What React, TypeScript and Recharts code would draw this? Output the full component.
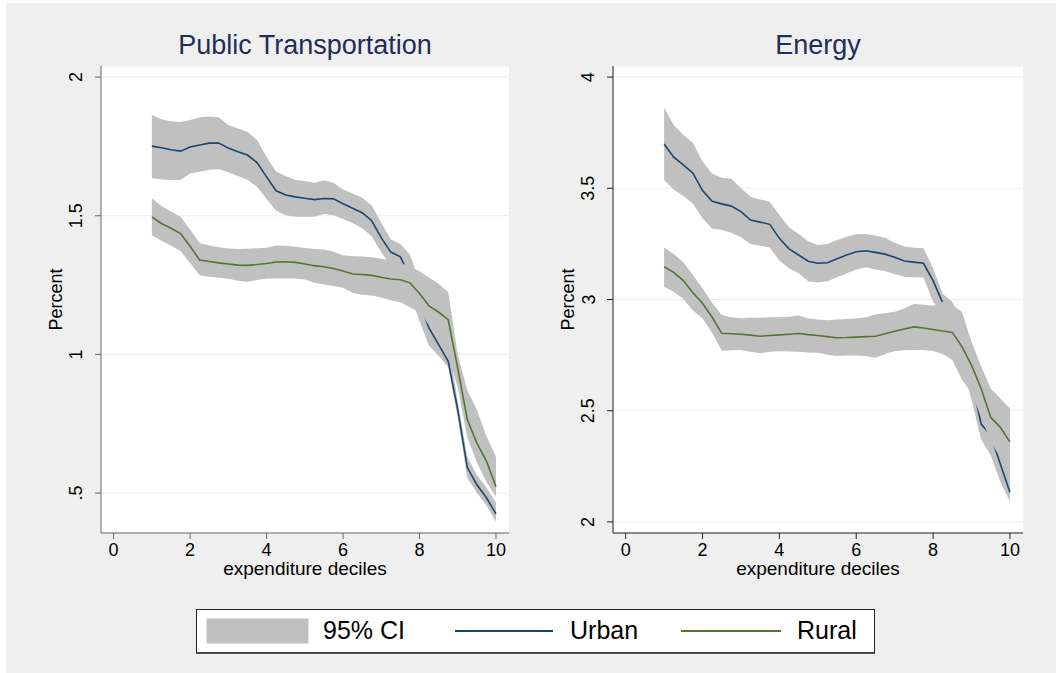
import React from 'react'
import { ComposedChart, Area, XAxis, YAxis, CartesianGrid, Label } from 'recharts'

// expenditure deciles (x grid shared by every series)
const deciles = [
  1, 1.25, 1.5, 1.75, 2, 2.25, 2.5, 2.75, 3, 3.25, 3.5, 3.75, 4, 4.25, 4.5, 4.75, 5, 5.25, 5.5,
  5.75, 6, 6.25, 6.5, 6.75, 7, 7.25, 7.5, 7.75, 8, 8.25, 8.5, 8.75, 9, 9.25, 9.5, 9.75, 10,
]
const xTicks = [0, 2, 4, 6, 8, 10]

// Public Transportation
const ptUrban = [1.751, 1.745, 1.738, 1.733, 1.748, 1.755, 1.762, 1.762, 1.744, 1.731, 1.719, 1.692, 1.640, 1.590, 1.575, 1.568, 1.563, 1.558, 1.562, 1.561, 1.543, 1.527, 1.511, 1.482, 1.420, 1.369, 1.352, 1.280, 1.180, 1.095, 1.035, 0.975, 0.800, 0.592, 0.530, 0.483, 0.425]
const ptUrbanHi = [1.863, 1.848, 1.841, 1.838, 1.845, 1.855, 1.858, 1.855, 1.827, 1.815, 1.803, 1.773, 1.712, 1.660, 1.642, 1.630, 1.625, 1.619, 1.628, 1.619, 1.595, 1.580, 1.565, 1.537, 1.475, 1.414, 1.398, 1.360, 1.260, 1.160, 1.110, 1.050, 0.830, 0.630, 0.565, 0.520, 0.465]
const ptUrbanLo = [1.635, 1.632, 1.629, 1.629, 1.652, 1.659, 1.666, 1.668, 1.657, 1.643, 1.630, 1.605, 1.560, 1.518, 1.502, 1.496, 1.496, 1.496, 1.506, 1.502, 1.488, 1.474, 1.455, 1.425, 1.368, 1.320, 1.300, 1.220, 1.120, 1.030, 0.995, 0.955, 0.770, 0.555, 0.500, 0.455, 0.397]
const ptRural = [1.496, 1.472, 1.455, 1.436, 1.390, 1.340, 1.335, 1.330, 1.326, 1.322, 1.321, 1.324, 1.328, 1.333, 1.334, 1.332, 1.326, 1.320, 1.316, 1.310, 1.301, 1.290, 1.288, 1.285, 1.278, 1.272, 1.269, 1.258, 1.220, 1.175, 1.152, 1.125, 0.950, 0.765, 0.680, 0.615, 0.523]
const ptRuralHi = [1.563, 1.535, 1.515, 1.496, 1.450, 1.402, 1.393, 1.386, 1.382, 1.380, 1.381, 1.383, 1.385, 1.393, 1.392, 1.388, 1.384, 1.380, 1.378, 1.370, 1.358, 1.354, 1.353, 1.350, 1.345, 1.338, 1.330, 1.318, 1.300, 1.277, 1.255, 1.225, 1.000, 0.870, 0.800, 0.705, 0.631]
const ptRuralLo = [1.430, 1.410, 1.393, 1.372, 1.330, 1.285, 1.280, 1.276, 1.273, 1.266, 1.262, 1.268, 1.274, 1.274, 1.274, 1.274, 1.270, 1.258, 1.252, 1.247, 1.240, 1.222, 1.215, 1.212, 1.205, 1.195, 1.188, 1.170, 1.150, 1.105, 1.050, 1.000, 0.880, 0.700, 0.610, 0.540, 0.487]
const ptTicks = [0.5, 1, 1.5, 2]

// Energy
const enUrban = [3.699, 3.640, 3.605, 3.568, 3.490, 3.442, 3.430, 3.420, 3.395, 3.357, 3.348, 3.338, 3.275, 3.228, 3.200, 3.172, 3.163, 3.165, 3.183, 3.200, 3.215, 3.219, 3.212, 3.204, 3.190, 3.173, 3.168, 3.163, 3.085, 2.985, 2.910, 2.800, 2.640, 2.440, 2.390, 2.260, 2.133]
const enUrbanHi = [3.862, 3.785, 3.740, 3.705, 3.620, 3.565, 3.548, 3.543, 3.500, 3.462, 3.450, 3.440, 3.380, 3.325, 3.295, 3.262, 3.245, 3.250, 3.268, 3.282, 3.293, 3.295, 3.288, 3.278, 3.255, 3.238, 3.233, 3.230, 3.140, 3.025, 2.990, 2.900, 2.740, 2.520, 2.460, 2.330, 2.218]
const enUrbanLo = [3.537, 3.495, 3.465, 3.432, 3.365, 3.318, 3.312, 3.300, 3.280, 3.250, 3.242, 3.234, 3.175, 3.140, 3.118, 3.082, 3.076, 3.082, 3.100, 3.117, 3.135, 3.145, 3.135, 3.128, 3.115, 3.102, 3.100, 3.099, 2.990, 2.940, 2.840, 2.710, 2.550, 2.370, 2.300, 2.180, 2.090]
const enRural = [3.147, 3.122, 3.085, 3.030, 2.983, 2.920, 2.848, 2.846, 2.844, 2.840, 2.835, 2.838, 2.841, 2.844, 2.847, 2.842, 2.838, 2.833, 2.828, 2.829, 2.831, 2.833, 2.835, 2.846, 2.857, 2.867, 2.877, 2.872, 2.865, 2.858, 2.852, 2.788, 2.705, 2.600, 2.470, 2.425, 2.360]
const enRuralHi = [3.234, 3.205, 3.168, 3.110, 3.050, 2.985, 2.930, 2.920, 2.916, 2.918, 2.918, 2.920, 2.920, 2.922, 2.928, 2.915, 2.910, 2.907, 2.910, 2.912, 2.915, 2.920, 2.932, 2.938, 2.945, 2.960, 2.980, 2.976, 2.972, 2.990, 2.975, 2.945, 2.810, 2.700, 2.600, 2.555, 2.510]
const enRuralLo = [3.057, 3.035, 3.002, 2.950, 2.915, 2.850, 2.770, 2.772, 2.773, 2.765, 2.758, 2.765, 2.767, 2.766, 2.765, 2.762, 2.760, 2.752, 2.746, 2.748, 2.748, 2.745, 2.738, 2.755, 2.768, 2.772, 2.773, 2.773, 2.768, 2.755, 2.728, 2.640, 2.580, 2.470, 2.360, 2.290, 2.218]
const enTicks = [2, 2.5, 3, 3.5, 4]

const URBAN = '#1a476f'
const RURAL = '#55752f'
const BAND = '#c0c0c0'
const FONT = '"Liberation Sans", Arial, sans-serif'

const buildRows = (u: number[], uLo: number[], uHi: number[], r: number[], rLo: number[], rHi: number[]) =>
  deciles.map((x, i) => ({
    x,
    urban: u[i],
    urbanCI: [uLo[i], uHi[i]],
    rural: r[i],
    ruralCI: [rLo[i], rHi[i]],
  }))

const ptData = buildRows(ptUrban, ptUrbanLo, ptUrbanHi, ptRural, ptRuralLo, ptRuralHi)
const enData = buildRows(enUrban, enUrbanLo, enUrbanHi, enRural, enRuralLo, enRuralHi)

const fmtY = (v: number) => (v < 1 ? String(v).replace(/^0/, '') : String(v))

const YTick = (props: any) => {
  const { x, y, payload } = props
  const bx = x - 10.5
  return (
    <text x={bx} y={y} transform={`rotate(-90 ${bx} ${y})`} textAnchor="middle" fontSize={18} fill="#000">
      {fmtY(payload.value)}
    </text>
  )
}

const XTick = (props: any) => {
  const { x, y, payload } = props
  return (
    <text x={x} y={y + 15} textAnchor="middle" fontSize={18} fill="#000">
      {payload.value}
    </text>
  )
}

interface PanelProps {
  title: string
  data: any[]
  yDomain: [number, number]
  yTicks: number[]
  left: number
  width: number
  yAxisWidth: number
  marginRight: number
  axisColor: string
}

function Panel({ title, data, yDomain, yTicks, left, width, yAxisWidth, marginRight, axisColor }: PanelProps) {
  const height = 600
  // lines are drawn as stroke-only Areas so the rural band can cover the urban line (Stata draw order)
  return (
    <div style={{ position: 'absolute', left, top: 0, width, height }}>
      <ComposedChart
        width={width}
        height={height}
        data={data}
        margin={{ top: 66, right: marginRight, left: 0, bottom: 0 }}
      >
        <CartesianGrid vertical={false} stroke="#e4eef0" fill="#ffffff" />
        <XAxis
          type="number"
          dataKey="x"
          domain={[-0.33, 10.34]}
          ticks={xTicks}
          allowDataOverflow
          height={67}
          stroke={axisColor}
          tick={<XTick />}
          tickSize={6}
        >
          <Label
            content={(p: any) => (
              <text
                x={p.viewBox.x + p.viewBox.width / 2}
                y={p.viewBox.y + 42}
                textAnchor="middle"
                fontSize={19}
                fill="#000"
              >
                expenditure deciles
              </text>
            )}
          />
        </XAxis>
        <YAxis
          type="number"
          domain={yDomain}
          ticks={yTicks}
          allowDataOverflow
          width={yAxisWidth}
          stroke={axisColor}
          tick={<YTick />}
          tickSize={6}
        >
          <Label
            content={(p: any) => {
              const bx = p.viewBox.x + p.viewBox.width - 39
              const cy = p.viewBox.y + p.viewBox.height / 2
              return (
                <text x={bx} y={cy} transform={`rotate(-90 ${bx} ${cy})`} textAnchor="middle" fontSize={18} fill="#000">
                  Percent
                </text>
              )
            }}
          />
        </YAxis>
        <Area type="linear" dataKey="urbanCI" stroke="none" fill={BAND} fillOpacity={1} isAnimationActive={false} />
        <Area type="linear" dataKey="urban" stroke={URBAN} strokeWidth={1.6} fill="none" dot={false} activeDot={false} isAnimationActive={false} />
        <Area type="linear" dataKey="ruralCI" stroke="none" fill={BAND} fillOpacity={1} isAnimationActive={false} />
        <Area type="linear" dataKey="rural" stroke={RURAL} strokeWidth={1.6} fill="none" dot={false} activeDot={false} isAnimationActive={false} />
      </ComposedChart>
      <div
        style={{
          position: 'absolute',
          left: yAxisWidth,
          width: width - yAxisWidth - marginRight,
          top: 29,
          textAlign: 'center',
          fontSize: 27,
          lineHeight: '32px',
          color: '#1e2d5a',
        }}
      >
        {title}
      </div>
    </div>
  )
}

function ChartLegend() {
  return (
    <svg
      width={680}
      height={46}
      style={{ position: 'absolute', left: 196, top: 609 }}
    >
      <rect x={0.5} y={0.5} width={678} height={43} fill="#ffffff" stroke="#222" strokeWidth={1} />
      <line x1={0} y1={44.2} x2={679} y2={44.2} stroke="#555" strokeWidth={1.5} />
      <rect x={10.5} y={9.5} width={102} height={25} fill={BAND} />
      <text x={127} y={30} fontSize={25} fill="#000">95% CI</text>
      <line x1={259} y1={22} x2={357} y2={22} stroke={URBAN} strokeWidth={1.8} />
      <text x={374} y={30} fontSize={25} fill="#000">Urban</text>
      <line x1={485} y1={22} x2={585} y2={22} stroke={RURAL} strokeWidth={1.8} />
      <text x={601} y={30} fontSize={25} fill="#000">Rural</text>
    </svg>
  )
}

export default function App() {
  return (
    <div
      style={{
        position: 'absolute',
        left: 0,
        top: 0,
        width: 1056,
        height: 673,
        background: '#ffffff',
        overflow: 'hidden',
        fontFamily: FONT,
      }}
    >
      <div style={{ position: 'absolute', left: 6, top: 3, right: 0, bottom: 0, background: '#efefef' }} />
      <Panel
        title="Public Transportation"
        data={ptData}
        yDomain={[0.356, 2.04]}
        yTicks={ptTicks}
        left={0}
        width={530}
        yAxisWidth={101}
        marginRight={21}
        axisColor="#666"
      />
      <Panel
        title="Energy"
        data={enData}
        yDomain={[1.95, 4.05]}
        yTicks={enTicks}
        left={530}
        width={526}
        yAxisWidth={83}
        marginRight={33}
        axisColor="#222"
      />
      <ChartLegend />
    </div>
  )
}
